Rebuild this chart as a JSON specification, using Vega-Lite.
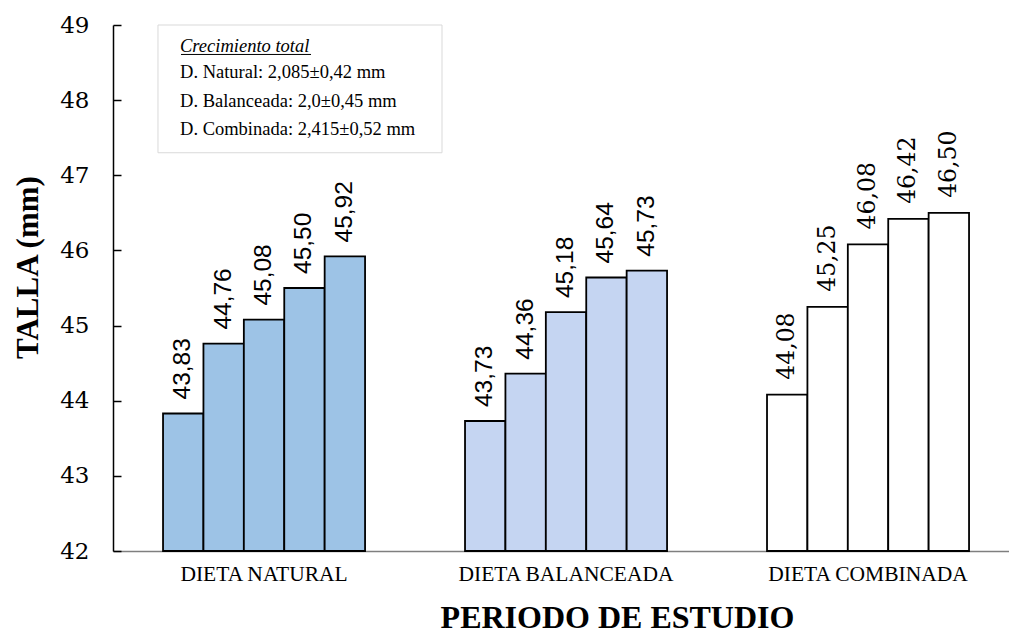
{
  "$schema": "https://vega.github.io/schema/vega-lite/v6.json",
  "width": 896,
  "height": 526,
  "autosize": {"type": "none"},
  "padding": {"left": 113, "top": 25, "right": 0, "bottom": 81},
  "background": "white",
  "config": {
    "locale": {"number": {"decimal": ",", "thousands": ".", "grouping": [3], "currency": ["", ""]}},
    "view": {"stroke": null},
    "font": "Liberation Serif",
    "axis": {"labelFont": "Liberation Serif", "titleFont": "Liberation Serif"}
  },
  "datasets": {
    "talla": [
      {"dieta": "DIETA NATURAL", "periodo": 1, "talla": 43.83},
      {"dieta": "DIETA NATURAL", "periodo": 2, "talla": 44.76},
      {"dieta": "DIETA NATURAL", "periodo": 3, "talla": 45.08},
      {"dieta": "DIETA NATURAL", "periodo": 4, "talla": 45.50},
      {"dieta": "DIETA NATURAL", "periodo": 5, "talla": 45.92},
      {"dieta": "DIETA BALANCEADA", "periodo": 1, "talla": 43.73},
      {"dieta": "DIETA BALANCEADA", "periodo": 2, "talla": 44.36},
      {"dieta": "DIETA BALANCEADA", "periodo": 3, "talla": 45.18},
      {"dieta": "DIETA BALANCEADA", "periodo": 4, "talla": 45.64},
      {"dieta": "DIETA BALANCEADA", "periodo": 5, "talla": 45.73},
      {"dieta": "DIETA COMBINADA", "periodo": 1, "talla": 44.08},
      {"dieta": "DIETA COMBINADA", "periodo": 2, "talla": 45.25},
      {"dieta": "DIETA COMBINADA", "periodo": 3, "talla": 46.08},
      {"dieta": "DIETA COMBINADA", "periodo": 4, "talla": 46.42},
      {"dieta": "DIETA COMBINADA", "periodo": 5, "talla": 46.50}
    ]
  },
  "layer": [
    {
      "data": {"name": "talla"},
      "encoding": {
        "x": {
          "field": "dieta",
          "type": "nominal",
          "sort": ["DIETA NATURAL", "DIETA BALANCEADA", "DIETA COMBINADA"],
          "scale": {"paddingInner": 0.331, "paddingOuter": 0.149, "align": 0.556},
          "axis": {
            "title": "PERIODO DE ESTUDIO",
            "titleFont": "Liberation Serif",
            "titleFontSize": 32,
            "titleFontWeight": "bold",
            "titleColor": "black",
            "titleX": 504,
            "titleY": 76,
            "titleAlign": "center",
            "titleBaseline": "alphabetic",
            "labelFont": "Liberation Serif",
            "labelFontSize": 21.5,
            "labelColor": "black",
            "labelAngle": 0,
            "labelPadding": 12,
            "labelLimit": 400,
            "ticks": false,
            "tickSize": 0,
            "domainColor": "#7F7F7F",
            "domainWidth": 1.5
          }
        },
        "xOffset": {
          "field": "periodo",
          "type": "ordinal",
          "scale": {"paddingInner": 0, "paddingOuter": 0}
        },
        "y": {
          "field": "talla",
          "type": "quantitative",
          "scale": {"domain": [42, 49], "zero": false, "nice": false},
          "axis": {
            "title": "TALLA (mm)",
            "titleFont": "Liberation Serif",
            "titleFontSize": 31,
            "titleFontWeight": "bold",
            "titleColor": "black",
            "titleX": -85,
            "titleY": 242,
            "titleAlign": "center",
            "titleBaseline": "middle",
            "titleAngle": 270,
            "labelFont": "DejaVu Serif",
            "labelFontSize": 23,
            "labelColor": "black",
            "labelPadding": 32,
            "labelFlush": false,
            "labelOverlap": false,
            "values": [42, 43, 44, 45, 46, 47, 48, 49],
            "format": "d",
            "tickSize": -8,
            "tickColor": "black",
            "tickWidth": 1.5,
            "domainColor": "black",
            "domainWidth": 1.5,
            "grid": false
          }
        }
      },
      "layer": [
        {
          "mark": {"type": "bar", "stroke": "black", "strokeWidth": 1.8},
          "encoding": {
            "y2": {"datum": 42},
            "fill": {
              "field": "dieta",
              "type": "nominal",
              "scale": {
                "domain": ["DIETA NATURAL", "DIETA BALANCEADA", "DIETA COMBINADA"],
                "range": ["#9DC3E6", "#C5D5F2", "#FFFFFF"]
              },
              "legend": null
            }
          }
        },
        {
          "transform": [{"filter": "datum.dieta != 'DIETA COMBINADA'"}],
          "mark": {"type": "text", "angle": 270, "align": "left", "baseline": "middle", "dx": 14, "font": "Liberation Sans", "fontSize": 24.5, "color": "black"},
          "encoding": {"text": {"field": "talla", "type": "quantitative", "format": ".2f"}}
        },
        {
          "transform": [{"filter": "datum.dieta == 'DIETA COMBINADA'"}],
          "mark": {"type": "text", "angle": 270, "align": "left", "baseline": "middle", "dx": 15, "font": "DejaVu Serif", "fontSize": 23.5, "color": "black"},
          "encoding": {"text": {"field": "talla", "type": "quantitative", "format": ".2f"}}
        }
      ]
    },
    {
      "data": {"values": [{}]},
      "layer": [
        {
          "mark": {"type": "rect", "fill": "white", "stroke": "#D9D9D9", "strokeWidth": 1},
          "encoding": {
            "x": {"datum": 5.02, "type": "quantitative", "scale": {"domain": [0, 100]}, "axis": null},
            "x2": {"datum": 36.72},
            "y": {"datum": 49, "type": "quantitative"},
            "y2": {"datum": 47.3}
          }
        },
        {
          "mark": {"type": "text", "align": "left", "baseline": "alphabetic", "fontSize": 18.5, "fontStyle": "italic", "color": "black", "text": "Crecimiento total"},
          "encoding": {
            "x": {"datum": 7.48, "type": "quantitative"},
            "y": {"datum": 48.641, "type": "quantitative"}
          }
        },
        {
          "mark": {"type": "rule", "color": "black", "strokeWidth": 1},
          "encoding": {
            "x": {"datum": 7.59, "type": "quantitative"},
            "x2": {"datum": 22.1},
            "y": {"datum": 48.608, "type": "quantitative"}
          }
        },
        {
          "mark": {"type": "text", "align": "left", "baseline": "alphabetic", "fontSize": 18.5, "color": "black", "text": "D. Natural: 2,085±0,42 mm"},
          "encoding": {
            "x": {"datum": 7.48, "type": "quantitative"},
            "y": {"datum": 48.295, "type": "quantitative"}
          }
        },
        {
          "mark": {"type": "text", "align": "left", "baseline": "alphabetic", "fontSize": 18.5, "color": "black", "text": "D. Balanceada: 2,0±0,45 mm"},
          "encoding": {
            "x": {"datum": 7.48, "type": "quantitative"},
            "y": {"datum": 47.909, "type": "quantitative"}
          }
        },
        {
          "mark": {"type": "text", "align": "left", "baseline": "alphabetic", "fontSize": 18.5, "color": "black", "text": "D. Combinada: 2,415±0,52 mm"},
          "encoding": {
            "x": {"datum": 7.48, "type": "quantitative"},
            "y": {"datum": 47.536, "type": "quantitative"}
          }
        }
      ]
    }
  ],
  "resolve": {"scale": {"x": "independent"}, "axis": {"x": "independent"}}
}
